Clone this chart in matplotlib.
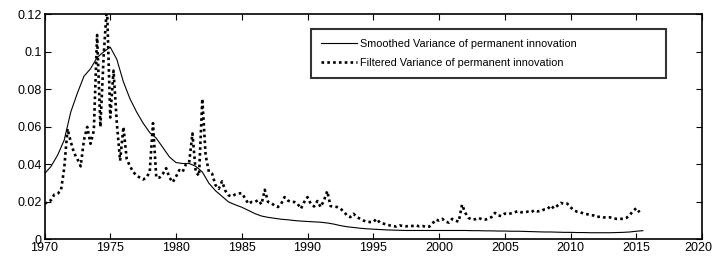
import numpy as np
import matplotlib
matplotlib.use("Agg")
import matplotlib.pyplot as plt
import matplotlib.transforms as mtransforms

plt.rcParams['font.family'] = ['Liberation Sans', 'DejaVu Sans']

# Filtered variance, quarterly from 1970Q1
filtered = [
    0.019, 0.020, 0.021, 0.024,      # 1970
    0.0245, 0.026, 0.038, 0.059,     # 1971
    0.052, 0.046, 0.043, 0.039,      # 1972
    0.053, 0.060, 0.051, 0.058,      # 1973
    0.109, 0.060, 0.098, 0.125,      # 1974
    0.065, 0.090, 0.062, 0.042,      # 1975
    0.060, 0.043, 0.039, 0.036,      # 1976
    0.034, 0.033, 0.032, 0.033,      # 1977
    0.036, 0.062, 0.033, 0.033,      # 1978
    0.035, 0.038, 0.033, 0.0305,     # 1979
    0.0335, 0.037, 0.036, 0.040,     # 1980
    0.041, 0.0565, 0.036, 0.034,     # 1981
    0.075, 0.045, 0.036, 0.035,      # 1982
    0.029, 0.027, 0.031, 0.026,      # 1983
    0.0235, 0.023, 0.024, 0.0245,    # 1984
    0.0247, 0.022, 0.019, 0.020,     # 1985
    0.020, 0.021, 0.0187, 0.0265,    # 1986
    0.020, 0.0194, 0.018, 0.0173,    # 1987
    0.019, 0.0226, 0.0208, 0.020,    # 1988
    0.020, 0.019, 0.0164, 0.020,     # 1989
    0.0226, 0.019, 0.0176, 0.0205,   # 1990
    0.0173, 0.0208, 0.0258, 0.0178,  # 1991
    0.0176, 0.0173, 0.0164, 0.0150,  # 1992
    0.0128, 0.0119, 0.0137, 0.012,   # 1993
    0.011, 0.0101, 0.0095, 0.0093,   # 1994
    0.0093, 0.011, 0.009, 0.0085,    # 1995
    0.008, 0.0075, 0.0071, 0.0069,   # 1996
    0.0075, 0.0072, 0.0070, 0.0073,  # 1997
    0.0072, 0.0075, 0.0070, 0.0072,  # 1998
    0.0067, 0.0068, 0.0085, 0.0106,  # 1999
    0.0101, 0.011, 0.0095, 0.009,    # 2000
    0.011, 0.010, 0.0095, 0.0186,    # 2001
    0.0142, 0.0115, 0.0106, 0.0108,  # 2002
    0.0115, 0.0108, 0.0106, 0.011,   # 2003
    0.012, 0.0142, 0.0128, 0.0125,   # 2004
    0.0138, 0.0135, 0.0140, 0.0145,  # 2005
    0.0151, 0.0145, 0.0146, 0.0148,  # 2006
    0.0145, 0.0156, 0.015, 0.0152,   # 2007
    0.016, 0.0162, 0.0181, 0.0165,   # 2008
    0.018, 0.0195, 0.0190, 0.0191,   # 2009
    0.0172, 0.0156, 0.0148, 0.0145,  # 2010
    0.0138, 0.0135, 0.013, 0.0128,   # 2011
    0.012, 0.0122, 0.0118, 0.0117,   # 2012
    0.0118, 0.0113, 0.011, 0.011,    # 2013
    0.011, 0.0115, 0.013, 0.0151,    # 2014
    0.0167, 0.0145,                  # 2015
]
filtered_start = 1970.0
filtered_step = 0.25

# Smoothed variance, half-yearly from 1970H1
smoothed = [
    0.035, 0.039, 0.045, 0.053, 0.068, 0.078, 0.087, 0.091,       # 1970-1973
    0.097, 0.100, 0.1025, 0.096, 0.084, 0.075, 0.068, 0.062,      # 1974-1977
    0.057, 0.054, 0.049, 0.044, 0.041, 0.0405, 0.0405, 0.039,     # 1978-1981
    0.036, 0.030, 0.026, 0.023, 0.020, 0.0185, 0.0172, 0.0155,    # 1982-1985
    0.0138, 0.0125, 0.0118, 0.0113, 0.0108, 0.0105, 0.0101, 0.0098,  # 1986-1989
    0.0096, 0.0094, 0.0092, 0.0088, 0.0082, 0.0074, 0.0068, 0.0064,  # 1990-1993
    0.0060, 0.0057, 0.0055, 0.0053, 0.0051, 0.0050, 0.0049, 0.0048,  # 1994-1997
    0.0048, 0.0048, 0.0048, 0.0048, 0.0048, 0.0048, 0.0048, 0.0048,  # 1998-2001
    0.0048, 0.0047, 0.0047, 0.0046, 0.0046, 0.0045, 0.0045, 0.0044,  # 2002-2005
    0.0044, 0.0043, 0.0042, 0.0041, 0.0040, 0.0040, 0.0039, 0.0038,  # 2006-2009
    0.0038, 0.0037, 0.0037, 0.0036, 0.0036, 0.0036, 0.0036, 0.0037,  # 2010-2013
    0.0038, 0.0040, 0.0044, 0.0047,                                  # 2014-2015
]
smoothed_start = 1970.0
smoothed_step = 0.5

labels = ["Smoothed Variance of permanent innovation",
          "Filtered Variance of permanent innovation"]
xticks = list(range(1970, 2021, 5))
yticks = [0, 0.02, 0.04, 0.06, 0.08, 0.1, 0.12]
yticklabels = ["0", "0.02", "0.04", "0.06", "0.08", "0.1", "0.12"]

t_f = filtered_start + filtered_step * np.arange(len(filtered))
t_s = smoothed_start + smoothed_step * np.arange(len(smoothed))

fig = plt.figure(figsize=(7.12, 2.56), dpi=100)
ax = fig.add_axes([0.0625, 0.0645, 0.9235, 0.8795])

ax.plot(t_s, smoothed, color='black', lw=0.8, label=labels[0])
ax.plot(t_f, filtered, color='black', lw=1.9, linestyle=(0, (1, 1.2)),
        label=labels[1])

ax.set_xlim(1970, 2020)
ax.set_ylim(0, 0.12)
ax.set_xticks(xticks)
ax.set_xticklabels([str(x) for x in xticks])
ax.set_yticks(yticks)
ax.set_yticklabels(yticklabels)
ax.tick_params(direction='in', top=True, right=True, length=4, width=0.8,
               labelsize=9, pad=2)
for s in ax.spines.values():
    s.set_linewidth(1.2)

# nudge the last x label so it stays inside the canvas
last = ax.get_xticklabels()[-1]
last.set_transform(last.get_transform() +
                   mtransforms.ScaledTranslation(-4 / 100, 0, fig.dpi_scale_trans))

leg = ax.legend(loc='upper left', bbox_to_anchor=(0.405, 0.713, 0.54, 0.22),
                mode='expand', fontsize=7.8, frameon=True, fancybox=False,
                edgecolor='black', handlelength=3.4, borderpad=0.9,
                labelspacing=0.8, handletextpad=0.2, borderaxespad=0)
leg.get_frame().set_linewidth(1.5)

fig.savefig("out.png", dpi=100)
